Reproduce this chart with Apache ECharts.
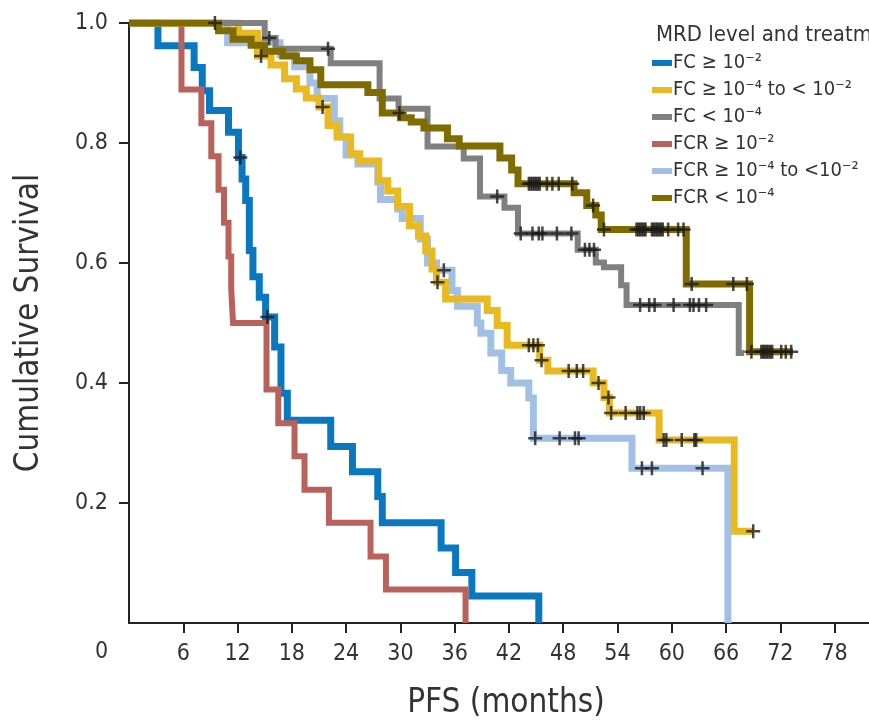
<!DOCTYPE html>
<html>
<head>
<meta charset="utf-8" />
<script src="https://cdn.jsdelivr.net/npm/echarts@6/dist/echarts.min.js"></script>
<title>PFS by MRD level</title>
<style>
  html, body { margin: 0; padding: 0; background: #fff; }
</style>
</head>
<body>
<div id="main" style="width:869px; height:725px"></div>
<script type="text/javascript">
// series names (legend order)
var names = ['FC ≥ 10⁻²', 'FC ≥ 10⁻⁴ to < 10⁻²', 'FC < 10⁻⁴', 'FCR ≥ 10⁻²', 'FCR ≥ 10⁻⁴ to <10⁻²', 'FCR < 10⁻⁴'];
var colors = ['#0a78c0', '#e8b921', '#808080', '#b9625c', '#a2c0e6', '#806b00'];
var xTicks = [0, 6, 12, 18, 24, 30, 36, 42, 48, 54, 60, 66, 72, 78];

// [month, survival] at each step
var fcHigh = [[0,1],[3.2,0.962],[7.2,0.926],[8.1,0.887],[8.9,0.854],[11.0,0.818],[12.1,0.776],[12.5,0.74],[12.9,0.704],
  [13.3,0.621],[13.7,0.577],[14.4,0.543],[15.1,0.51],[16.1,0.46],[16.8,0.383],[17.5,0.338],[22.3,0.294],[24.7,0.252],
  [27.5,0.211],[28.0,0.167],[34.5,0.125],[36.1,0.084],[37.9,0.045],[45.3,0]];
var fcMid = [[0,1],[12.1,0.983],[14.2,0.945],[15.7,0.93],[17.2,0.907],[18.5,0.89],[19.6,0.875],[21.0,0.86],[22.0,0.829],
  [23.0,0.81],[24.5,0.782],[25.5,0.77],[27.6,0.737],[28.6,0.72],[29.7,0.694],[31.0,0.662],[32.0,0.645],[32.8,0.62],
  [33.5,0.59],[34.0,0.568],[35.0,0.54],[39.6,0.521],[40.7,0.496],[41.8,0.463],[45.4,0.438],[46.3,0.42],[51.3,0.4],
  [52.5,0.376],[53.1,0.35],[58.6,0.305],[66.9,0.153],[69.0,0.153]];
var fcLow = [[0,1],[15.0,0.975],[16.2,0.957],[22.3,0.933],[27.7,0.874],[29.8,0.857],[33.0,0.794],[37.0,0.774],
  [38.8,0.711],[41.5,0.692],[43.0,0.649],[49.6,0.622],[51.6,0.601],[52.5,0.593],[54.4,0.563],[55.0,0.53],
  [67.4,0.45],[68.0,0.45]];
var fcrHigh = [[0,1],[5.8,0.889],[8.0,0.833],[9.1,0.778],[9.9,0.722],[10.5,0.667],[11.0,0.611],[11.3,0.556],[11.5,0.5],
  [15.2,0.389],[16.5,0.333],[18.3,0.278],[19.4,0.222],[22.1,0.167],[26.7,0.111],[28.4,0.056],[37.2,0]];
var fcrMid = [[0,1],[10.9,0.967],[16.7,0.947],[18.3,0.927],[20.0,0.9],[20.8,0.874],[22.7,0.837],[23.3,0.81],[24.0,0.78],
  [25.3,0.765],[27.5,0.735],[27.8,0.706],[29.7,0.69],[30.2,0.674],[32.2,0.64],[33.0,0.6],[34.0,0.588],[35.7,0.554],
  [36.3,0.528],[38.5,0.5],[38.9,0.483],[40.0,0.45],[41.2,0.421],[42.2,0.4],[44.2,0.375],[44.7,0.308],[55.6,0.258],[66.2,0]];
var fcrLow = [[0,1],[9.9,0.987],[11.5,0.973],[13.5,0.963],[15.0,0.953],[17.0,0.945],[18.5,0.937],[20.0,0.922],[21.2,0.897],
  [26.4,0.884],[28.0,0.85],[30.0,0.842],[31.2,0.835],[32.6,0.825],[35.2,0.807],[36.5,0.795],[41.0,0.775],[42.3,0.755],
  [43.0,0.732],[49.2,0.717],[50.6,0.696],[51.6,0.68],[52.2,0.656],[61.6,0.565],[68.6,0.452],[73.4,0.452]];

// censored times (months)
var fcHighCens = [12.3, 15.3];
var fcMidCens = [14.6, 21.4, 34.1, 44.2, 44.7, 45.2, 45.6, 48.6, 49.5, 50.2, 51.9, 53.0, 53.3, 54.9, 56.2, 56.5, 56.9,
  59.1, 59.4, 61.1, 62.5, 62.7, 69.0];
var fcLowCens = [15.5, 22.0, 40.7, 43.3, 44.6, 45.3, 45.7, 47.3, 48.9, 50.4, 50.9, 51.4, 56.5, 57.5, 58.1, 60.2, 62.0,
  62.4, 63.0, 63.8];
var fcrHighCens = [];
var fcrMidCens = [34.8, 44.9, 47.6, 49.3, 49.7, 56.7, 57.8, 63.4];
var fcrLowCens = [9.5, 29.9, 44.2, 44.4, 44.6, 44.8, 45.0, 45.2, 45.4, 46.2, 46.8, 47.5, 49.0, 51.3, 52.5,
  56.1, 56.3, 56.5, 56.7, 56.9, 57.1, 57.8, 58.0, 58.2, 58.4, 58.6, 58.8, 59.0, 59.6, 60.7, 61.3,
  62.2, 66.8, 68.3, 68.8, 69.9, 70.1, 70.3, 70.5, 70.7, 70.9, 71.1, 72.1, 72.6, 73.2];

var curves = [fcHigh, fcMid, fcLow, fcrHigh, fcrMid, fcrLow];
var cens = [fcHighCens, fcMidCens, fcLowCens, fcrHighCens, fcrMidCens, fcrLowCens];
var widths = [7, 7, 6, 6, 7, 7];
var drawOrder = [0, 3, 4, 1, 2, 5];

var font = '"DejaVu Sans Condensed", "Liberation Sans", sans-serif';
var plus = 'path://M0,4.1H10V5.9H0Z M4.1,0H5.9V10H4.1Z';

// survival value of a step curve at time t
function survAt(curve, t) {
  var s = curve[0][1];
  for (var i = 0; i < curve.length; i++) {
    if (curve[i][0] <= t) s = curve[i][1];
  }
  return s;
}

var series = [];
drawOrder.forEach(function (k) {
  series.push({
    name: names[k],
    type: 'line',
    step: 'end',
    data: curves[k],
    showSymbol: false,
    symbol: 'none',
    color: colors[k],
    lineStyle: { color: colors[k], width: widths[k], cap: 'butt', join: 'miter' },
    z: 2,
    animation: false
  });
});
drawOrder.forEach(function (k) {
  series.push({
    type: 'scatter',
    data: cens[k].map(function (t) { return [t, survAt(curves[k], t)]; }),
    symbol: plus,
    symbolSize: 14,
    itemStyle: { color: '#1a1a1a' },
    z: 5,
    animation: false
  });
});

var myChart = echarts.init(document.getElementById('main'));
myChart.setOption({
  animation: false,
  title: {
    text: 'MRD level and treatment',
    left: 651,
    top: 19,
    textStyle: { fontFamily: font, fontSize: 22, fontWeight: 'normal', color: '#333' }
  },
  legend: {
    data: names,
    orient: 'vertical',
    left: 647,
    top: 48,
    icon: 'rect',
    itemWidth: 20,
    itemHeight: 6,
    itemGap: 7,
    textStyle: { fontFamily: font, fontSize: 20, color: '#333', padding: [0, 0, 0, -4] }
  },
  grid: { left: 129, top: 23, right: 0, bottom: 102 },
  xAxis: {
    type: 'value',
    min: 0,
    max: 81.8,
    interval: 6,
    name: 'PFS (months)',
    nameLocation: 'middle',
    nameGap: 64,
    nameTextStyle: { fontFamily: font, fontSize: 33, color: '#333', padding: [0, 0, 0, 14] },
    axisLine: { lineStyle: { color: '#222', width: 2 } },
    axisTick: { length: 10, lineStyle: { color: '#222', width: 2 } },
    axisLabel: {
      showMinLabel: false,
      showMaxLabel: false,
      margin: 20,
      fontFamily: font,
      fontSize: 23,
      color: '#333',
      formatter: function (v) { return xTicks.indexOf(v) >= 0 ? String(v) : ''; }
    },
    splitLine: { show: false }
  },
  yAxis: {
    type: 'value',
    min: 0,
    max: 1,
    interval: 0.2,
    name: 'Cumulative Survival',
    nameLocation: 'middle',
    nameGap: 83,
    nameTextStyle: { fontFamily: font, fontSize: 33, color: '#333' },
    axisLine: { lineStyle: { color: '#222', width: 2 } },
    axisTick: { length: 10, lineStyle: { color: '#222', width: 2 } },
    axisLabel: {
      showMinLabel: false,
      margin: 21,
      fontFamily: font,
      fontSize: 23,
      color: '#333',
      formatter: function (v) { return v.toFixed(1); }
    },
    splitLine: { show: false }
  },
  graphic: [{
    type: 'text',
    left: 95,
    top: 641,
    style: { text: '0', font: '23px ' + font, fill: '#333' }
  }],
  series: series
});
</script>
</body>
</html>
